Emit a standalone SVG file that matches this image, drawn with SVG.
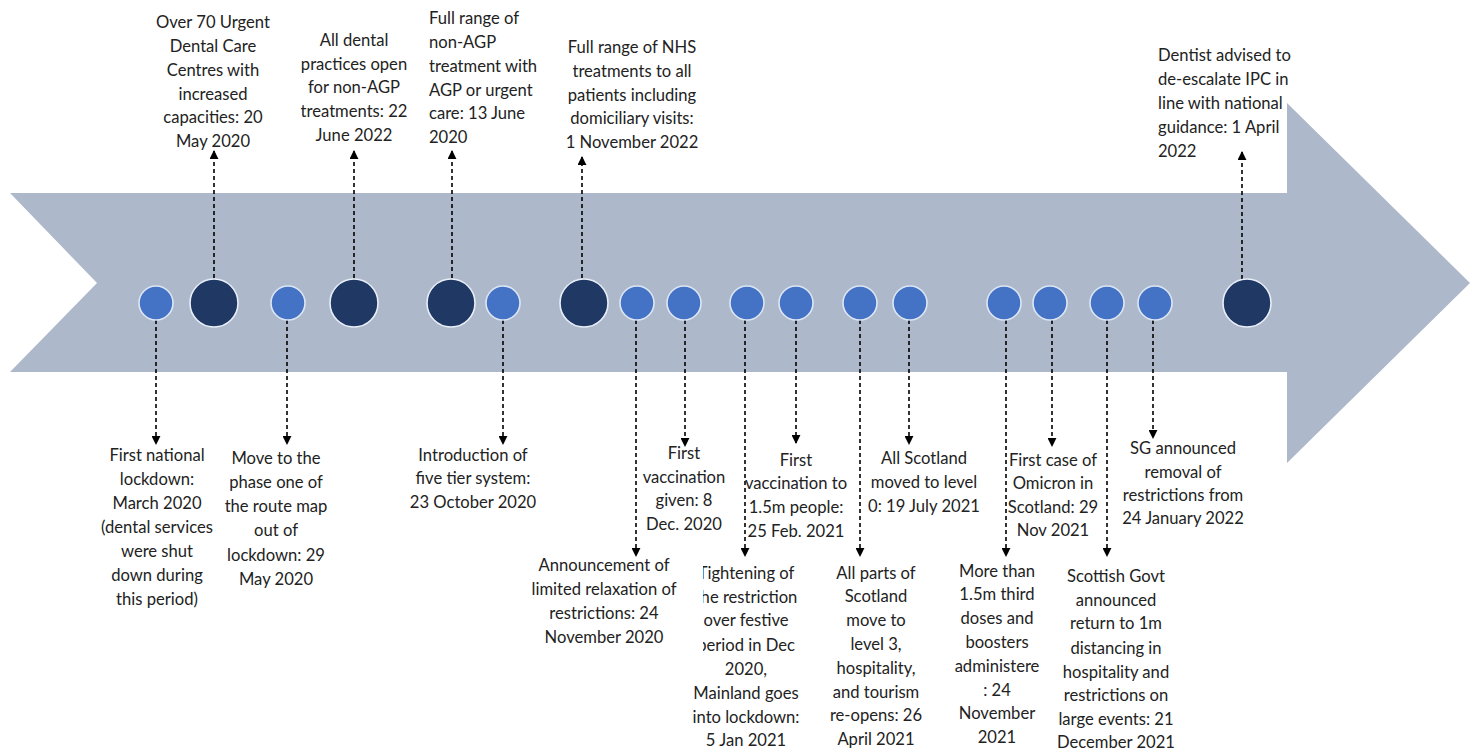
<svg xmlns="http://www.w3.org/2000/svg" width="1471" height="753" viewBox="0 0 1471 753">
<style>
text{font-family:Lato,"Liberation Sans",sans-serif;font-size:16.6px;fill:#222}
.c{text-anchor:middle}
.l{text-anchor:start}
.lt{fill:#4472C4;stroke:#DCE6F5;stroke-width:1.6}
.dk{fill:#1F3864;stroke:#E8EEF8;stroke-width:1.6}
.con line{stroke:#000;stroke-width:1.6;stroke-dasharray:4 3;fill:none}
</style>
<defs>
<marker id="ah" viewBox="0 0 10 10" refX="9" refY="5" markerWidth="9" markerHeight="9" markerUnits="userSpaceOnUse" orient="auto">
<path d="M0,0 L10,5 L0,10 Z" fill="#000"/>
</marker>
<clipPath id="clipT"><polygon points="703,540 903,540 903,753 600,753 600,662 703,662"/></clipPath>
</defs>
<rect width="1471" height="753" fill="#fff"/>
<polygon id="band" points="10,193 1287,193 1287,103 1470,283 1287,463 1287,372 10,372 97,283" fill="#ADB9CA"/>

<g class="con">
<line x1="214" y1="278" x2="214" y2="151" marker-end="url(#ah)"/>
<line x1="354" y1="278" x2="354" y2="151" marker-end="url(#ah)"/>
<line x1="452" y1="278" x2="452" y2="151" marker-end="url(#ah)"/>
<line x1="582" y1="278" x2="582" y2="157" marker-end="url(#ah)"/>
<line x1="1242" y1="279" x2="1242" y2="152" marker-end="url(#ah)"/>
<line x1="156" y1="320" x2="156" y2="444" marker-end="url(#ah)"/>
<line x1="287" y1="320" x2="287" y2="444" marker-end="url(#ah)"/>
<line x1="503" y1="320" x2="503" y2="444" marker-end="url(#ah)"/>
<line x1="636" y1="320" x2="636" y2="556" marker-end="url(#ah)"/>
<line x1="685" y1="320" x2="685" y2="446" marker-end="url(#ah)"/>
<line x1="745" y1="320" x2="745" y2="556" marker-end="url(#ah)"/>
<line x1="796" y1="320" x2="796" y2="443" marker-end="url(#ah)"/>
<line x1="860" y1="320" x2="860" y2="556" marker-end="url(#ah)"/>
<line x1="909" y1="320" x2="909" y2="444" marker-end="url(#ah)"/>
<line x1="1006" y1="320" x2="1006" y2="556" marker-end="url(#ah)"/>
<line x1="1052" y1="320" x2="1052" y2="446" marker-end="url(#ah)"/>
<line x1="1107" y1="320" x2="1107" y2="556" marker-end="url(#ah)"/>
<line x1="1153" y1="320" x2="1153" y2="438" marker-end="url(#ah)"/>
</g>

<g id="n1"><circle class="lt" cx="156" cy="303" r="17"/>
<text class="c"><tspan x="157" y="461">First national</tspan><tspan x="157" y="485">lockdown:</tspan><tspan x="157" y="509">March 2020</tspan><tspan x="157" y="533">(dental services</tspan><tspan x="157" y="557">were shut</tspan><tspan x="157" y="581">down during</tspan><tspan x="157" y="605">this period)</tspan></text></g>

<g id="n2"><circle class="dk" cx="214" cy="303" r="24"/>
<text class="c"><tspan x="213" y="28">Over 70 Urgent</tspan><tspan x="213" y="52">Dental Care</tspan><tspan x="213" y="76">Centres with</tspan><tspan x="213" y="100">increased</tspan><tspan x="213" y="123">capacities: 20</tspan><tspan x="213" y="147">May 2020</tspan></text></g>

<g id="n3"><circle class="lt" cx="288" cy="303" r="17"/>
<text class="c"><tspan x="276" y="464">Move to the</tspan><tspan x="276" y="488">phase one of</tspan><tspan x="276" y="512">the route map</tspan><tspan x="276" y="536">out of</tspan><tspan x="276" y="561">lockdown: 29</tspan><tspan x="276" y="585">May 2020</tspan></text></g>

<g id="n4"><circle class="dk" cx="354" cy="303" r="24"/>
<text class="c"><tspan x="354" y="46">All dental</tspan><tspan x="354" y="70">practices open</tspan><tspan x="354" y="93">for non-AGP</tspan><tspan x="354" y="117">treatments: 22</tspan><tspan x="354" y="141">June 2022</tspan></text></g>

<g id="n5"><circle class="dk" cx="451" cy="303" r="24"/>
<text class="l"><tspan x="429" y="24">Full range of</tspan><tspan x="429" y="48">non-AGP</tspan><tspan x="429" y="72">treatment with</tspan><tspan x="429" y="96">AGP or urgent</tspan><tspan x="429" y="119">care: 13 June</tspan><tspan x="429" y="143">2020</tspan></text></g>

<g id="n6"><circle class="lt" cx="503" cy="303" r="17"/>
<text class="c"><tspan x="473" y="461">Introduction of</tspan><tspan x="473" y="484">five tier system:</tspan><tspan x="473" y="508">23 October 2020</tspan></text></g>

<g id="n7"><circle class="dk" cx="584" cy="303" r="24"/>
<text class="c"><tspan x="632" y="53">Full range of NHS</tspan><tspan x="632" y="77">treatments to all</tspan><tspan x="632" y="101">patients including</tspan><tspan x="632" y="124">domiciliary visits:</tspan><tspan x="632" y="148">1 November 2022</tspan></text></g>

<g id="n8"><circle class="lt" cx="637" cy="303" r="17"/>
<text class="c"><tspan x="604" y="571">Announcement of</tspan><tspan x="604" y="595">limited relaxation of</tspan><tspan x="604" y="619">restrictions: 24</tspan><tspan x="604" y="643">November 2020</tspan></text></g>

<g id="n9"><circle class="lt" cx="684" cy="303" r="17"/>
<text class="c"><tspan x="684" y="459">First</tspan><tspan x="684" y="483">vaccination</tspan><tspan x="684" y="506">given: 8</tspan><tspan x="684" y="530">Dec. 2020</tspan></text></g>

<g id="n10"><circle class="lt" cx="747" cy="303" r="17"/>
<text class="c" clip-path="url(#clipT)"><tspan x="746" y="579">Tightening of</tspan><tspan x="746" y="603">the restriction</tspan><tspan x="746" y="626">over festive</tspan><tspan x="746" y="651">period in Dec</tspan><tspan x="746" y="675">2020,</tspan><tspan x="746" y="699">Mainland goes</tspan><tspan x="746" y="723">into lockdown:</tspan><tspan x="746" y="746">5 Jan 2021</tspan></text></g>

<g id="n11"><circle class="lt" cx="796" cy="303" r="17"/>
<text class="c"><tspan x="796" y="466">First</tspan><tspan x="796" y="489">vaccination to</tspan><tspan x="796" y="513">1.5m people:</tspan><tspan x="796" y="537">25 Feb. 2021</tspan></text></g>

<g id="n12"><circle class="lt" cx="860" cy="303" r="17"/>
<text class="c"><tspan x="876" y="579">All parts of</tspan><tspan x="876" y="602">Scotland</tspan><tspan x="876" y="626">move to</tspan><tspan x="876" y="650">level 3,</tspan><tspan x="876" y="674">hospitality,</tspan><tspan x="876" y="698">and tourism</tspan><tspan x="876" y="721">re-opens: 26</tspan><tspan x="876" y="745">April 2021</tspan></text></g>

<g id="n13"><circle class="lt" cx="910" cy="303" r="17"/>
<text class="c"><tspan x="924" y="464">All Scotland</tspan><tspan x="924" y="488">moved to level</tspan><tspan x="924" y="512">0: 19 July 2021</tspan></text></g>

<g id="n14"><circle class="lt" cx="1004" cy="303" r="17"/>
<text class="c"><tspan x="997" y="577">More than</tspan><tspan x="997" y="600">1.5m third</tspan><tspan x="997" y="624">doses and</tspan><tspan x="997" y="648">boosters</tspan><tspan x="997" y="672">administere</tspan><tspan x="997" y="696">: 24</tspan><tspan x="997" y="719">November</tspan><tspan x="997" y="743">2021</tspan></text></g>

<g id="n15"><circle class="lt" cx="1050" cy="303" r="17"/>
<text class="c"><tspan x="1053" y="466">First case of</tspan><tspan x="1053" y="489">Omicron in</tspan><tspan x="1053" y="513">Scotland: 29</tspan><tspan x="1053" y="536">Nov 2021</tspan></text></g>

<g id="n16"><circle class="lt" cx="1107" cy="303" r="17"/>
<text class="c"><tspan x="1116" y="582">Scottish Govt</tspan><tspan x="1116" y="606">announced</tspan><tspan x="1116" y="629">return to 1m</tspan><tspan x="1116" y="654">distancing in</tspan><tspan x="1116" y="678">hospitality and</tspan><tspan x="1116" y="701">restrictions on</tspan><tspan x="1116" y="725">large events: 21</tspan><tspan x="1116" y="748">December 2021</tspan></text></g>

<g id="n17"><circle class="lt" cx="1155" cy="303" r="17"/>
<text class="c"><tspan x="1183" y="454">SG announced</tspan><tspan x="1183" y="478">removal of</tspan><tspan x="1183" y="501">restrictions from</tspan><tspan x="1183" y="524">24 January 2022</tspan></text></g>

<g id="n18"><circle class="dk" cx="1247" cy="303" r="24"/>
<text class="l"><tspan x="1158" y="61">Dentist advised to</tspan><tspan x="1158" y="85">de-escalate IPC in</tspan><tspan x="1158" y="109">line with national</tspan><tspan x="1158" y="133">guidance: 1 April</tspan><tspan x="1158" y="157">2022</tspan></text></g>
</svg>
